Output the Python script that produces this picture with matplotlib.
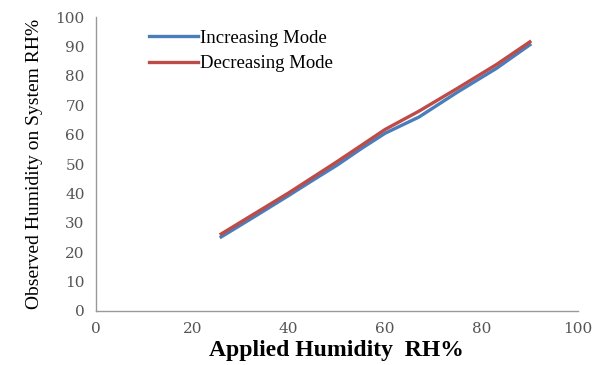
import matplotlib
matplotlib.use("Agg")
import matplotlib.pyplot as plt

# Sensor response: applied humidity vs. humidity reported by the system
applied_inc = [26, 33, 40, 45, 50, 55, 60, 67, 75, 83, 90]
observed_inc = [25.2, 32.2, 39.3, 44.5, 49.6, 55.2, 60.5, 66.0, 74.5, 82.5, 90.6]
applied_dec = [26, 33, 40, 45, 50, 55, 60, 67, 75, 83, 90]
observed_dec = [26.2, 33.2, 40.2, 45.5, 50.8, 56.3, 61.8, 68.0, 75.8, 83.8, 91.6]

x_ticks = [0, 20, 40, 60, 80, 100]
y_ticks = [0, 10, 20, 30, 40, 50, 60, 70, 80, 90, 100]

fig = plt.figure(figsize=(6.06, 3.65), dpi=100)
ax = fig.add_axes([0.158, 0.148, 0.796, 0.805])

ax.plot(applied_inc, observed_inc, color="#4a7ebb", lw=2.4, label="Increasing Mode")
ax.plot(applied_dec, observed_dec, color="#be4b48", lw=2.4, label="Decreasing Mode")

ax.set_xlim(0, 100)
ax.set_ylim(0, 100)
ax.set_xticks(x_ticks)
ax.set_yticks(y_ticks)
tick_font = dict(family="DejaVu Serif", size=11, color="#555555")
ax.set_xticklabels([str(v) for v in x_ticks], **tick_font)
ax.set_yticklabels([str(v) for v in y_ticks], **tick_font)
ax.tick_params(length=0, pad=8)

for side in ("top", "right"):
    ax.spines[side].set_visible(False)
for side in ("left", "bottom"):
    ax.spines[side].set_color("#999999")
    ax.spines[side].set_linewidth(1.0)

ax.set_xlabel("Applied Humidity  RH%", family="Liberation Serif", fontweight="bold",
              fontsize=17, labelpad=3)
ax.set_ylabel("Observed Humidity on System RH%", family="Liberation Serif",
              fontsize=14, labelpad=9)

leg = ax.legend(loc="upper left", bbox_to_anchor=(0.075, 1.015), frameon=False,
                prop=dict(family="Liberation Serif", size=13.5),
                handlelength=2.6, handletextpad=0.15, labelspacing=0.45)

fig.savefig("out.png", dpi=100, facecolor="white")
